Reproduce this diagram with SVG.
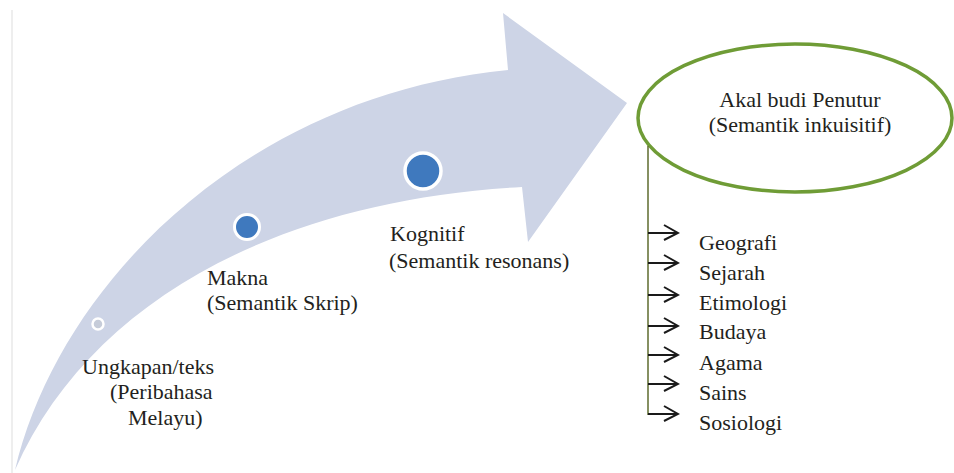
<svg xmlns="http://www.w3.org/2000/svg" width="954" height="473" viewBox="0 0 954 473">
<defs>
<marker id="chev" markerUnits="userSpaceOnUse" viewBox="-16 -10 18 20" markerWidth="18" markerHeight="20" refX="0" refY="0" orient="auto">
<path d="M-14,-8 L0,0 L-14,7" fill="none" stroke="#1a1a1a" stroke-width="2"/>
</marker>
</defs>
<rect width="954" height="473" fill="#ffffff"/>
<rect x="11" y="10" width="2" height="463" fill="#eeeeee"/>
<g id="arrow">
<path d="M15,470 C60,280 250,95 508,70 L503,13 L627,103 L528,242 L522,187 C280,200 90,300 15,470 Z" fill="#cdd4e6"/>
</g>
<g id="node-ungkapan">
<circle cx="98" cy="324" r="5.5" fill="#c6ccd9" stroke="#ffffff" stroke-width="2.5"/>
<text x="82" y="374" style="font-family:'Liberation Serif',serif !important;font-size:22px !important" fill="#231f20">Ungkapan/teks</text>
<text x="110" y="399" style="font-family:'Liberation Serif',serif !important;font-size:22px !important" fill="#231f20">(Peribahasa</text>
<text x="128" y="425" style="font-family:'Liberation Serif',serif !important;font-size:22px !important" fill="#231f20">Melayu)</text>
</g>
<g id="node-makna">
<circle cx="247" cy="227" r="12.5" fill="#3f79be" stroke="#ffffff" stroke-width="3"/>
<text x="207" y="285" style="font-family:'Liberation Serif',serif !important;font-size:22px !important" fill="#231f20">Makna</text>
<text x="207" y="310" style="font-family:'Liberation Serif',serif !important;font-size:22px !important" fill="#231f20">(Semantik Skrip)</text>
</g>
<g id="node-kognitif">
<circle cx="423" cy="171" r="18" fill="#3f79be" stroke="#ffffff" stroke-width="3.5"/>
<text x="390" y="241" style="font-family:'Liberation Serif',serif !important;font-size:22px !important" fill="#231f20">Kognitif</text>
<text x="389" y="268" style="font-family:'Liberation Serif',serif !important;font-size:22px !important" fill="#231f20">(Semantik resonans)</text>
</g>
<g id="node-akal">
<ellipse cx="795" cy="118" rx="157" ry="74" fill="#ffffff" stroke="#6f9c36" stroke-width="3.5"/>
<text x="800" y="107" text-anchor="middle" style="font-family:'Liberation Serif',serif !important;font-size:22px !important" fill="#231f20">Akal budi Penutur</text>
<text x="800" y="132" text-anchor="middle" style="font-family:'Liberation Serif',serif !important;font-size:22px !important" fill="#231f20">(Semantik inkuisitif)</text>
</g>
<g id="node-list">
<text x="699" y="250" style="font-family:'Liberation Serif',serif !important;font-size:22px !important" fill="#231f20">Geografi</text>
<text x="699" y="280" style="font-family:'Liberation Serif',serif !important;font-size:22px !important" fill="#231f20">Sejarah</text>
<text x="699" y="310" style="font-family:'Liberation Serif',serif !important;font-size:22px !important" fill="#231f20">Etimologi</text>
<text x="699" y="339" style="font-family:'Liberation Serif',serif !important;font-size:22px !important" fill="#231f20">Budaya</text>
<text x="699" y="370" style="font-family:'Liberation Serif',serif !important;font-size:22px !important" fill="#231f20">Agama</text>
<text x="699" y="400" style="font-family:'Liberation Serif',serif !important;font-size:22px !important" fill="#231f20">Sains</text>
<text x="699" y="430" style="font-family:'Liberation Serif',serif !important;font-size:22px !important" fill="#231f20">Sosiologi</text>
</g>
<g id="connectors" fill="none" stroke="#1a1a1a" stroke-width="2">
<line x1="648" y1="146" x2="648" y2="415" stroke="#5e6b2e" stroke-width="1.5"/>
<line x1="648" y1="233" x2="678" y2="233" marker-end="url(#chev)"/>
<line x1="648" y1="263" x2="678" y2="263" marker-end="url(#chev)"/>
<line x1="648" y1="295" x2="678" y2="295" marker-end="url(#chev)"/>
<line x1="648" y1="326" x2="678" y2="326" marker-end="url(#chev)"/>
<line x1="648" y1="355" x2="678" y2="355" marker-end="url(#chev)"/>
<line x1="648" y1="384" x2="678" y2="384" marker-end="url(#chev)"/>
<line x1="648" y1="414" x2="678" y2="414" marker-end="url(#chev)"/>
</g>
</svg>
